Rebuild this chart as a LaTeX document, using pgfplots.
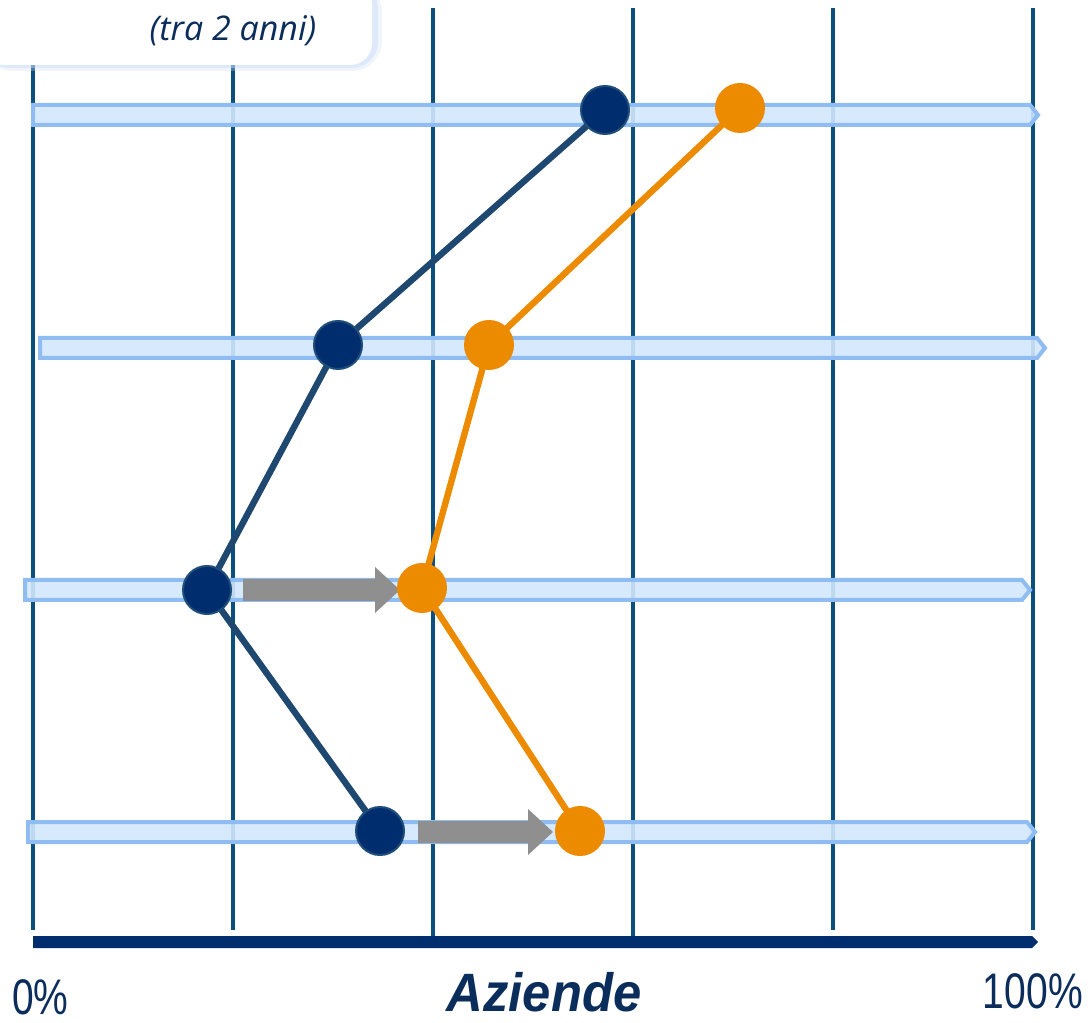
\documentclass[border=0pt]{standalone}
\usepackage{pgfplots}
\pgfplotsset{compat=1.18}
\usepackage{fontspec}
\setmainfont{Open Sans}
\newfontfamily\labfont{Liberation Sans}
\definecolor{gridc}{HTML}{0A4F80}
\definecolor{barfill}{HTML}{D2E7FD}
\definecolor{bardraw}{HTML}{8FBCF2}
\definecolor{navy}{HTML}{002D6E}
\definecolor{navyline}{HTML}{1F4870}
\definecolor{navyedge}{HTML}{1F4E7A}
\definecolor{orangec}{HTML}{EC8A00}
\definecolor{grayc}{HTML}{8F8F8F}
\definecolor{txt}{HTML}{0B2D5C}
\definecolor{shadowc}{HTML}{C9DCF7}
\begin{document}
\begin{tikzpicture}
\begin{axis}[
  width=545pt, height=511pt, scale only axis,
  xmin=-3.3, xmax=105.7, ymin=0, ymax=1022,
  hide axis, clip=false,
]
% grid lines
\addplot[gridc, line width=2pt] coordinates {(0,92) (0,1014)};
\addplot[gridc, line width=2pt] coordinates {(20,92) (20,1014)};
\addplot[gridc, line width=2pt] coordinates {(40,82) (40,1014)};
\addplot[gridc, line width=2pt] coordinates {(60,82) (60,1014)};
\addplot[gridc, line width=2pt] coordinates {(80,92) (80,1014)};
\addplot[gridc, line width=2pt] coordinates {(100,92) (100,1014)};
% horizontal bars
\addplot[fill=barfill, fill opacity=0.9, draw=bardraw, line width=2pt] coordinates {(0,897) (99.7,897) (100.5,907) (99.7,917) (0,917)} -- cycle;
\addplot[fill=barfill, fill opacity=0.9, draw=bardraw, line width=2pt] coordinates {(0.7,664) (100.4,664) (101.2,674) (100.4,684) (0.7,684)} -- cycle;
\addplot[fill=barfill, fill opacity=0.9, draw=bardraw, line width=2pt] coordinates {(-0.8,422) (98.9,422) (99.7,432) (98.9,442) (-0.8,442)} -- cycle;
\addplot[fill=barfill, fill opacity=0.9, draw=bardraw, line width=2pt] coordinates {(-0.5,180) (99.4,180) (100.2,190) (99.4,200) (-0.5,200)} -- cycle;
% bottom axis arrow
\addplot[fill=navy, draw=none] coordinates {(0,74) (99.9,74) (100.5,80) (99.9,86) (0,86)} -- cycle;
% gray arrows
\addplot[fill=grayc, draw=none] coordinates {(21,421) (34.2,421) (34.2,409) (36.7,432) (34.2,455) (34.2,443) (21,443)} -- cycle;
\addplot[fill=grayc, draw=none] coordinates {(38.5,179) (49.5,179) (49.5,167) (52,190) (49.5,213) (49.5,201) (38.5,201)} -- cycle;
% series
\addplot[navyline, line width=3.2pt, mark=*, mark size=12pt, mark options={fill=navy, draw=navyedge, line width=1pt}] coordinates {(57.2,912) (30.5,677) (17.4,432) (34.7,191)};
\addplot[orangec, line width=3.2pt, mark=*, mark size=12pt, mark options={fill=orangec, draw=orangec, line width=1pt}] coordinates {(70.7,914) (45.6,677) (38.9,434) (54.7,191)};
% text box
\fill[shadowc, opacity=0.3, rounded corners=15pt] (axis cs:-5,951) rectangle (axis cs:34.9,1040);
\fill[shadowc, opacity=0.45, rounded corners=13pt] (axis cs:-5,954) rectangle (axis cs:34.5,1040);
\fill[white, rounded corners=11pt] (axis cs:-5,957) rectangle (axis cs:33.9,1040);
\node[text=txt, font=\fontsize{17}{20}\selectfont\itshape] at (axis cs:20,991) {(tra 2 anni)};
% labels
\node[text=txt, inner sep=0pt, font=\labfont\fontsize{25}{28}\selectfont, xscale=0.78, anchor=base west] at (axis cs:-2.1,8) {0\%};
\node[text=txt, inner sep=0pt, font=\labfont\fontsize{25}{28}\selectfont, xscale=0.78, anchor=base east] at (axis cs:105.0,14) {100\%};
\node[text=txt, inner sep=0pt, font=\labfont\fontsize{27}{32}\selectfont\bfseries\itshape, xscale=0.94, anchor=base] at (axis cs:51.1,11) {Aziende};
\end{axis}
\pgfresetboundingbox
\path[use as bounding box] (0,0) rectangle (545pt,511pt);
\end{tikzpicture}
\end{document}
